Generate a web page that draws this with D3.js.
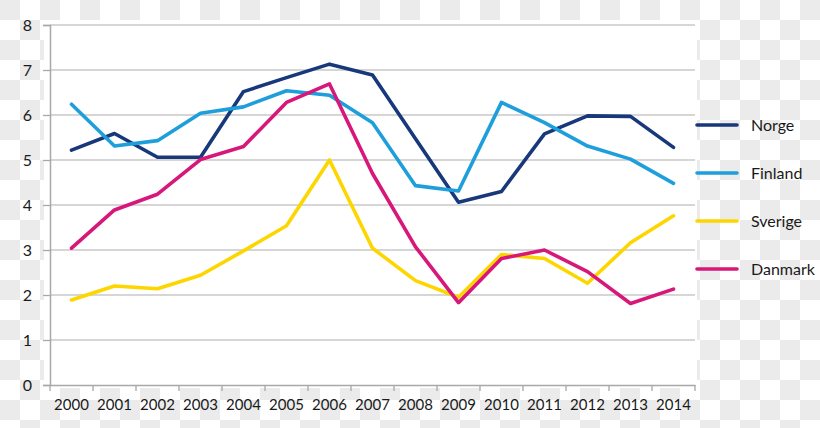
<!DOCTYPE html>
<html><head><meta charset="utf-8">
<script src="https://cdn.jsdelivr.net/npm/d3@7"></script>
<style>html,body{margin:0;padding:0;background:#fff;}svg{display:block;}</style>
</head><body>
<svg id="chart" width="820" height="428"></svg>
<script>
const years = ["2000","2001","2002","2003","2004","2005","2006","2007","2008","2009","2010","2011","2012","2013","2014"];
const norge   = [5.22,5.59,5.06,5.06,6.52,6.83,7.13,6.89,5.47,4.06,4.30,5.58,5.98,5.97,5.28];
const finland = [6.24,5.31,5.43,6.04,6.18,6.54,6.44,5.83,4.43,4.31,6.28,5.83,5.31,5.02,4.48];
const sverige = [1.89,2.20,2.14,2.44,2.98,3.54,5.00,3.04,2.32,1.95,2.90,2.81,2.26,3.16,3.76];
const danmark = [3.04,3.89,4.24,5.01,5.30,6.28,6.69,4.70,3.07,1.83,2.81,3.00,2.52,1.81,2.13];
const seriesNames = ["Norge","Finland","Sverige","Danmark"];
const seriesColors = ["#17387a","#1e9fdc","#fdd600","#d8177b"];
const yTicks = [0,1,2,3,4,5,6,7,8];

const allSeries = [norge, finland, sverige, danmark];
const svg = d3.select("#chart");
const W = 820, H = 428;
const m = {left:50, right:125, top:25, bottom:43};

// checkerboard background
const defs = svg.append("defs");
const pat = defs.append("pattern").attr("id","chk").attr("width",40).attr("height",40).attr("patternUnits","userSpaceOnUse");
pat.append("rect").attr("width",40).attr("height",40).attr("fill","#ffffff");
pat.append("rect").attr("x",0).attr("y",0).attr("width",20).attr("height",20).attr("fill","#ebebeb");
pat.append("rect").attr("x",20).attr("y",20).attr("width",20).attr("height",20).attr("fill","#ebebeb");
svg.append("rect").attr("width",W).attr("height",H).attr("fill","url(#chk)");

const x = d3.scaleBand().domain(years).range([m.left, W - m.right]);
const y = d3.scaleLinear().domain([0,8]).range([H - m.bottom, m.top]);

// white plot backdrop
svg.append("rect").attr("x",m.left-6).attr("y",m.top-5)
  .attr("width",(W-m.right)-(m.left-6)+2).attr("height",(H-m.bottom)-(m.top-5)+3).attr("fill","#ffffff");

// gridlines
svg.append("g").selectAll("line").data(yTicks.filter(d=>d>0)).join("line")
  .attr("x1",m.left).attr("x2",W-m.right).attr("y1",d=>y(d)).attr("y2",d=>y(d))
  .attr("stroke","#c9c9c9").attr("stroke-width",1.3);

// y axis
const yAxis = svg.append("g").attr("transform",`translate(${m.left},0)`)
  .call(d3.axisLeft(y).tickValues(yTicks).tickSize(7).tickPadding(11).tickFormat(d3.format("d")));
yAxis.select(".domain").attr("stroke","#a8a8a8").attr("stroke-width",1.5);
yAxis.selectAll(".tick line").attr("stroke","#a8a8a8").attr("stroke-width",1.3);
yAxis.selectAll("text").attr("font-family","Lato, sans-serif").attr("font-size",16).attr("fill","#1a1a1a");

// x axis
const xAxis = svg.append("g").attr("transform",`translate(0,${H-m.bottom})`)
  .call(d3.axisBottom(x).tickSize(0).tickPadding(14));
xAxis.select(".domain").attr("stroke","#a8a8a8").attr("stroke-width",1.5);
xAxis.selectAll("text").attr("font-family","Lato, sans-serif").attr("font-size",15).attr("fill","#1a1a1a");
// boundary ticks
const bounds = years.map(d=>x(d)).concat([x(years[years.length-1])+x.bandwidth()]);
xAxis.append("g").selectAll("line").data(bounds).join("line")
  .attr("x1",d=>d).attr("x2",d=>d).attr("y1",0).attr("y2",6)
  .attr("stroke","#a8a8a8").attr("stroke-width",1.3);

// lines
const line = d3.line().x((d,i)=>x(years[i])+x.bandwidth()/2).y(d=>y(d));
svg.append("g").selectAll("path").data(allSeries).join("path")
  .attr("d",line).attr("fill","none")
  .attr("stroke",(d,i)=>seriesColors[i]).attr("stroke-width",3.6)
  .attr("stroke-linejoin","round").attr("stroke-linecap","round");

// legend
const lg = svg.append("g").selectAll("g").data(seriesNames).join("g")
  .attr("transform",(d,i)=>`translate(697,${125+i*48})`);
lg.append("line").attr("x1",0).attr("x2",40).attr("y1",0).attr("y2",0)
  .attr("stroke",(d,i)=>seriesColors[i]).attr("stroke-width",3.6).attr("stroke-linecap","round");
lg.append("text").attr("x",54).attr("y",0).attr("dy","0.35em").text(d=>d)
  .attr("font-family","Lato, sans-serif").attr("font-size",16).attr("fill","#1a1a1a");
</script>
</body></html>
